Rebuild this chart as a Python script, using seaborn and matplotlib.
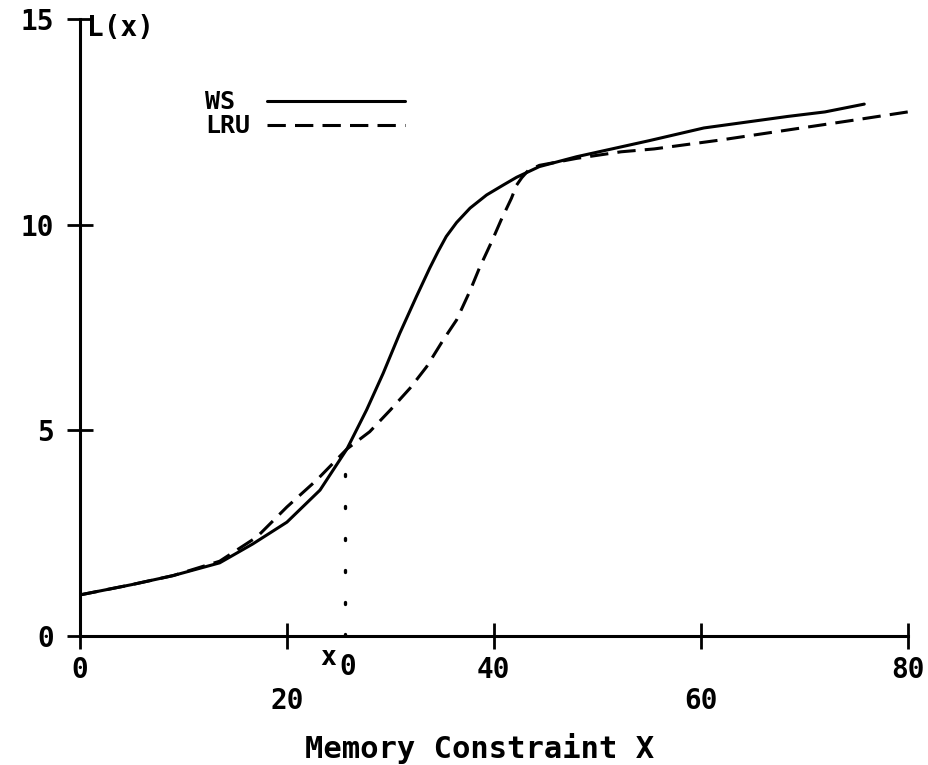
import numpy as np
import pandas as pd
import matplotlib
matplotlib.use("Agg")
import matplotlib.pyplot as plt
import seaborn as sns
from matplotlib.ticker import FixedLocator, FormatStrFormatter

# values
ws_x = [0, 5, 9, 13.5, 16.7, 20, 23.2, 25.8, 27.7, 29.3, 30.9, 32.5, 33.8,
        34.6, 35.4, 36.4, 37.7, 39.3, 40.9, 42.2, 44.4, 48, 55, 60.3, 68.4,
        72, 75.8]
ws_y = [1.0, 1.25, 1.47, 1.78, 2.24, 2.77, 3.55, 4.55, 5.5, 6.39, 7.36, 8.25,
        8.95, 9.35, 9.72, 10.06, 10.41, 10.73, 10.97, 11.16, 11.42, 11.66,
        12.05, 12.36, 12.64, 12.75, 12.94]

lru_x = [0, 5, 9, 13.5, 17.1, 20, 22.9, 25.8, 28.0, 30.0, 31.9, 33.5, 35.1,
         36.4, 37.7, 38.6, 39.8, 40.7, 41.7, 42.2, 42.7, 43.3, 44.4, 48, 52.3,
         55.5, 62, 68.4, 74.8, 80]
lru_y = [1.0, 1.25, 1.47, 1.82, 2.41, 3.14, 3.8, 4.55, 4.97, 5.5, 6.03, 6.55,
         7.2, 7.69, 8.4, 8.95, 9.6, 10.12, 10.65, 10.97, 11.15, 11.32, 11.45,
         11.62, 11.78, 11.85, 12.07, 12.31, 12.55, 12.75]

x0 = 25.6          # crossing point marked on the x axis
x0_top = 4.2

major_xticks = [0, 40, 80]
minor_xticks = [20, 60]
yticks = [0, 5, 10, 15]

ws = pd.DataFrame({"x": ws_x, "y": ws_y})
lru = pd.DataFrame({"x": lru_x, "y": lru_y})

sns.set_style("white")
plt.rcParams["font.family"] = ["DejaVu Sans Mono", "DejaVu Sans"]
plt.rcParams["font.weight"] = "bold"
plt.rcParams["text.color"] = "black"
plt.rcParams["axes.labelcolor"] = "black"

fig = plt.figure(figsize=(9.29, 7.65), dpi=100)
ax = fig.add_axes([0.0861, 0.1686, 0.891, 0.806])

sns.lineplot(data=ws, x="x", y="y", ax=ax, color="black", lw=2.2,
             label="WS", sort=False)
sns.lineplot(data=lru, x="x", y="y", ax=ax, color="black", lw=2.2,
             dashes=(6, 3), label="LRU", sort=False)
ax.plot([x0, x0], [0, x0_top], color="black", lw=2.4,
        linestyle=(0, (0.6, 9)), dash_capstyle="round")

ax.set_xlim(0, 80)
ax.set_ylim(0, 15)

for side in ["top", "right"]:
    ax.spines[side].set_visible(False)
for side in ["left", "bottom"]:
    ax.spines[side].set_linewidth(2.2)
    ax.spines[side].set_color("black")

ax.xaxis.set_major_locator(FixedLocator(major_xticks))
ax.xaxis.set_minor_locator(FixedLocator(minor_xticks))
ax.xaxis.set_minor_formatter(FormatStrFormatter("%d"))
ax.set_yticks(yticks)

ax.tick_params(axis="both", which="both", direction="inout", length=19,
               width=2, color="black", labelsize=20, labelcolor="black")
ax.tick_params(axis="x", which="major", pad=5, bottom=True)
ax.tick_params(axis="x", which="minor", pad=27, bottom=True)
ax.tick_params(axis="y", pad=9, left=True)
for lab in ax.get_xticklabels(which="both") + ax.get_yticklabels():
    lab.set_fontweight("bold")

# x0 marker label
ax.annotate("x", xy=(x0, 0), xycoords=("data", "axes fraction"),
            xytext=(-12, -16), textcoords="offset points",
            ha="center", va="center", fontsize=19, fontweight="bold")
ax.annotate("0", xy=(x0, 0), xycoords=("data", "axes fraction"),
            xytext=(2, -22), textcoords="offset points",
            ha="center", va="center", fontsize=20, fontweight="bold")

ax.text(0.008, 0.986, "L(x)", transform=ax.transAxes, ha="left", va="center",
        fontsize=20, fontweight="bold")

ax.set_xlabel("Memory Constraint X", fontsize=22, fontweight="bold")
ax.xaxis.set_label_coords((480 - 80) / 828, -(748 - 636) / 616.5)
ax.xaxis.label.set_va("center")
ax.set_ylabel("")

leg = ax.legend(loc="upper left", bbox_to_anchor=(0.151, 0.885),
                frameon=False, markerfirst=False, handlelength=5.5,
                handletextpad=0.7, labelspacing=0.0, borderaxespad=0,
                borderpad=0, prop={"size": 18, "weight": "bold"})
# texts are right-aligned by the legend; move "WS" left by one character
# so both labels start at the same x like the original
char_px = 0.602 * 18 * fig.dpi / 72
leg.get_texts()[0].set_x(-char_px)

fig.savefig("out.png", dpi=100)
